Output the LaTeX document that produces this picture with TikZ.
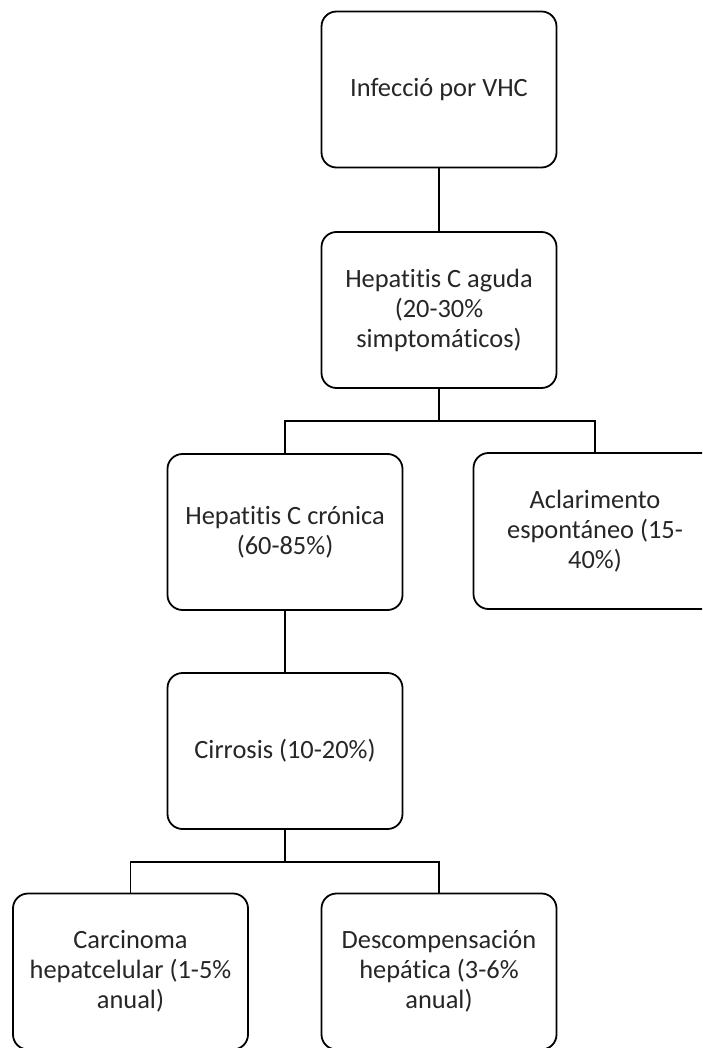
\documentclass[tikz,border=0pt]{standalone}
\usepackage{fontspec}
\setmainfont[Ligatures={NoCommon}]{Carlito}
\begin{document}
\begin{tikzpicture}[x=1pt,y=-1pt,
  box/.style={draw=black, line width=1.8pt, rounded corners=15pt, minimum width=235pt, minimum height=156pt,
    align=center, inner sep=2pt, font=\fontsize{26.4}{30}\selectfont, text=black!85},
  conn/.style={draw=black, line width=1.8pt}]
\useasboundingbox (0,0) rectangle (702,1048);
\clip (0,0) rectangle (702,1048);
\node[box] (n1) at (439,89.5) {Infecció por VHC};
\node[box] (n2) at (439,310) {Hepatitis C aguda\\(20-30\%\\simptomáticos)};
\node[box] (n3) at (285,532) {Hepatitis C crónica\\(60-85\%)};
\node[box, minimum width=243pt] (n4) at (595,531) {Aclarimento\\espontáneo (15-\\40\%)};
\node[box] (n5) at (285,751) {Cirrosis (10-20\%)};
\node[box] (n6) at (130.5,971.5) {Carcinoma\\hepatcelular (1-5\%\\anual)};
\node[box] (n7) at (439,971.5) {Descompensación\\hepática (3-6\%\\anual)};
\coordinate (j1) at (439,421);
\coordinate (j2) at (285,862);
\draw[conn] (n1.south) -- (n2.north);
\draw[conn] (n2.south) -- (j1);
\draw[conn] (j1) -| (n3.north);
\draw[conn] (j1) -| (n4.north);
\draw[conn] (n3.south) -- (n5.north);
\draw[conn] (n5.south) -- (j2);
\draw[conn] (j2) -| (n6.north);
\draw[conn] (j2) -| (n7.north);
\end{tikzpicture}
\end{document}
